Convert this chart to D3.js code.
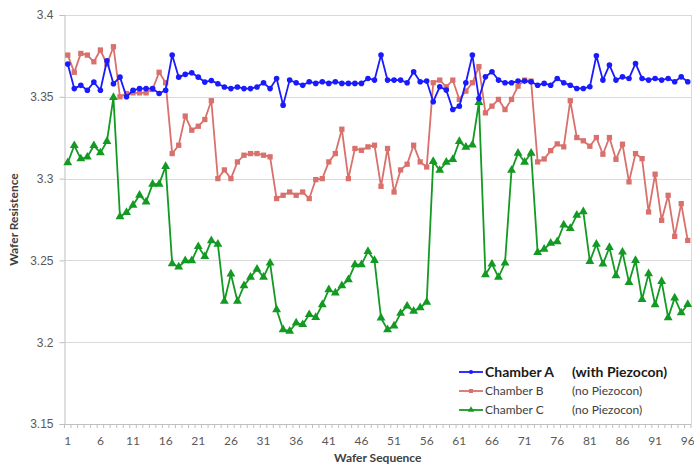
<!DOCTYPE html>
<html>
<head>
<meta charset="utf-8">
<script src="https://cdn.jsdelivr.net/npm/d3@7"></script>
<style>
  body { margin: 0; background: #fff; }
  svg { font-family: Lato, "Open Sans", sans-serif; }
  .grid line { stroke: #d9d9d9; stroke-width: 1; }
  .tick text { fill: #595959; }
</style>
</head>
<body>
<svg id="chart" width="694" height="465"></svg>
<script>
// wafer numbers along the bottom
var wafers = d3.range(1, 97);
var xTickLabels = [1, 6, 11, 16, 21, 26, 31, 36, 41, 46, 51, 56, 61, 66, 71, 76, 81, 86, 91, 96];
var yTicks = [3.15, 3.2, 3.25, 3.3, 3.35, 3.4];

var chamberA = [3.370, 3.355, 3.357, 3.354, 3.359, 3.354, 3.372, 3.358, 3.362, 3.350,
  3.354, 3.355, 3.355, 3.355, 3.352, 3.354, 3.3755, 3.362, 3.3637, 3.3647,
  3.362, 3.359, 3.360, 3.358, 3.356, 3.355, 3.356, 3.355, 3.355, 3.356,
  3.3586, 3.355, 3.3612, 3.3449, 3.3602, 3.3586, 3.357, 3.3592, 3.3582, 3.3592,
  3.3582, 3.3592, 3.3582, 3.3582, 3.3582, 3.3582, 3.3612, 3.3602, 3.3755, 3.3602,
  3.3602, 3.3602, 3.3586, 3.3653, 3.3592, 3.3596, 3.347, 3.3561, 3.3541, 3.3422,
  3.3443, 3.3586, 3.3755, 3.349, 3.3622, 3.3653, 3.3602, 3.3586, 3.3586, 3.3596,
  3.3596, 3.3592, 3.3571, 3.3582, 3.3571, 3.3612, 3.3586, 3.3571, 3.3551, 3.3551,
  3.3561, 3.3751, 3.3602, 3.3694, 3.3602, 3.3622, 3.3612, 3.3704, 3.3612, 3.3602,
  3.3612, 3.3602, 3.3612, 3.3592, 3.3622, 3.3592];

var chamberB = [3.3755, 3.365, 3.3765, 3.3755, 3.3714, 3.3786, 3.370, 3.3806, 3.350, 3.352,
  3.3524, 3.3524, 3.3524, 3.3545, 3.365, 3.3586, 3.3153, 3.3204, 3.3382, 3.3296,
  3.332, 3.3361, 3.3476, 3.300, 3.3053, 3.300, 3.3102, 3.3143, 3.3153, 3.3153,
  3.3143, 3.3133, 3.2878, 3.2898, 3.2918, 3.2898, 3.2918, 3.2878, 3.2994, 3.300,
  3.3102, 3.3153, 3.3302, 3.300, 3.3184, 3.3173, 3.3194, 3.3204, 3.2953, 3.3184,
  3.2918, 3.3053, 3.3088, 3.3204, 3.3102, 3.3071, 3.3586, 3.3602, 3.3561, 3.3602,
  3.3484, 3.3535, 3.3586, 3.3684, 3.3402, 3.3443, 3.3484, 3.3422, 3.3484, 3.3565,
  3.3602, 3.3596, 3.3102, 3.312, 3.3171, 3.3212, 3.3194, 3.3476, 3.3251, 3.3231,
  3.3198, 3.3251, 3.3149, 3.3251, 3.3118, 3.321, 3.298, 3.3153, 3.3122, 3.2796,
  3.3027, 3.2745, 3.2898, 3.2647, 3.2847, 3.2622];

var chamberC = [3.3097, 3.3202, 3.3121, 3.3132, 3.3202, 3.3158, 3.3227, 3.3496, 3.2767, 3.2793,
  3.2838, 3.2899, 3.2858, 3.2966, 3.2966, 3.3075, 3.248, 3.246, 3.2498, 3.2498,
  3.2585, 3.2524, 3.2621, 3.2599, 3.225, 3.2417, 3.225, 3.2346, 3.2398, 3.2447,
  3.2398, 3.2484, 3.2199, 3.2077, 3.2067, 3.2118, 3.2108, 3.2169, 3.2152, 3.223,
  3.2321, 3.2301, 3.2346, 3.2382, 3.2474, 3.2474, 3.2555, 3.25, 3.2148, 3.2077,
  3.210, 3.2177, 3.2221, 3.219, 3.2211, 3.2245, 3.3105, 3.3051, 3.3101, 3.3117,
  3.3227, 3.3192, 3.3206, 3.3466, 3.2413, 3.2478, 3.2397, 3.2484, 3.3051, 3.3156,
  3.3101, 3.3156, 3.2549, 3.2569, 3.2605, 3.2615, 3.2717, 3.2696, 3.2777, 3.2798,
  3.2494, 3.2599, 3.2478, 3.2579, 3.2407, 3.2551, 3.2366, 3.25, 3.2261, 3.2419,
  3.223, 3.2372, 3.215, 3.2271, 3.218, 3.2231];

var seriesNames = ["Chamber A", "Chamber B", "Chamber C"];
var seriesNotes = ["(with Piezocon)", "(no Piezocon)", "(no Piezocon)"];

var plotLeft = 64.5, plotRight = 691, plotTop = 15, plotBottom = 424;

var svg = d3.select("#chart");

var x = d3.scaleBand().domain(wafers).range([plotLeft, plotRight]).padding(0);
var y = d3.scaleLinear().domain([3.15, 3.4]).range([plotBottom, plotTop]);
var xc = function(d) { return x(d) + x.bandwidth() / 2; };

// horizontal gridlines
svg.append("g").attr("class", "grid")
  .selectAll("line").data(yTicks.slice(1)).enter().append("line")
  .attr("x1", plotLeft).attr("x2", plotRight)
  .attr("y1", function(d) { return Math.round(y(d)) + 0.5; })
  .attr("y2", function(d) { return Math.round(y(d)) + 0.5; });

// right border of plot
svg.append("line")
  .attr("x1", plotRight + 0.5).attr("x2", plotRight + 0.5)
  .attr("y1", plotTop).attr("y2", plotBottom)
  .attr("stroke", "#d9d9d9");

// y axis
var yAxis = d3.axisLeft(y).tickValues(yTicks).tickSize(5).tickPadding(6)
  .tickFormat(function(d) { return d3.format("")(+d.toFixed(2)); });
var yg = svg.append("g").attr("transform", "translate(" + plotLeft + ",0)").call(yAxis);
yg.select(".domain").attr("stroke", "#bfbfbf");
yg.selectAll(".tick line").attr("stroke", "#bfbfbf");
yg.selectAll(".tick text").style("font-size", "12px").style("font-family", null);

// x axis: a minor tick at every category boundary
var bounds = wafers.map(function(d) { return x(d); }).concat([plotRight]);
svg.append("line")
  .attr("x1", plotLeft).attr("x2", plotRight)
  .attr("y1", plotBottom + 0.5).attr("y2", plotBottom + 0.5)
  .attr("stroke", "#bfbfbf");
svg.append("g").selectAll("line").data(bounds).enter().append("line")
  .attr("x1", function(d) { return d; }).attr("x2", function(d) { return d; })
  .attr("y1", plotBottom).attr("y2", plotBottom + 4)
  .attr("stroke", "#bfbfbf");
svg.append("g").attr("class", "tick").selectAll("text").data(xTickLabels).enter().append("text")
  .attr("x", function(d) { return xc(d); })
  .attr("y", plotBottom + 21)
  .attr("text-anchor", "middle")
  .style("font-size", "12px")
  .text(function(d) { return d; });

// axis titles
svg.append("text")
  .attr("x", (plotLeft + plotRight) / 2).attr("y", 462)
  .attr("text-anchor", "middle")
  .style("font-size", "12px").style("font-weight", "bold").attr("fill", "#404040")
  .text("Wafer Sequence");
svg.append("text")
  .attr("transform", "translate(18," + ((plotTop + plotBottom) / 2) + ") rotate(-90)")
  .attr("text-anchor", "middle")
  .style("font-size", "12px").style("font-weight", "bold").attr("fill", "#404040")
  .text("Wafer Resistence");

var line = d3.line()
  .x(function(d, i) { return xc(wafers[i]); })
  .y(function(d) { return y(d); });

var tri = d3.symbol().type(d3.symbolTriangle).size(34);
var sq = d3.symbol().type(d3.symbolSquare).size(28);

function drawSeries(data, color, marker) {
  var g = svg.append("g");
  g.append("path").datum(data)
    .attr("fill", "none").attr("stroke", color).attr("stroke-width", 1.8)
    .attr("d", line);
  var pts = g.selectAll(".pt").data(data).enter();
  if (marker === "circle") {
    pts.append("circle")
      .attr("cx", function(d, i) { return xc(wafers[i]); })
      .attr("cy", function(d) { return y(d); })
      .attr("r", 2.8).attr("fill", color);
  } else {
    pts.append("path")
      .attr("d", marker === "square" ? sq : tri)
      .attr("transform", function(d, i) { return "translate(" + xc(wafers[i]) + "," + y(d) + ")"; })
      .attr("fill", color);
  }
}

var colors = ["#1a1aff", "#d9706b", "#139a22"];
drawSeries(chamberC, colors[2], "triangle");
drawSeries(chamberB, colors[1], "square");
drawSeries(chamberA, colors[0], "circle");

// legend
var legY = [372, 391, 410];
var leg = svg.append("g").selectAll("g").data(seriesNames).enter().append("g")
  .attr("transform", function(d, i) { return "translate(0," + legY[i] + ")"; });
leg.append("line").attr("x1", 459).attr("x2", 483).attr("y1", 0).attr("y2", 0)
  .attr("stroke", function(d, i) { return colors[i]; }).attr("stroke-width", 1.8);
leg.append("path")
  .attr("d", function(d, i) {
    if (i === 0) return d3.symbol().type(d3.symbolCircle).size(14)();
    if (i === 1) return d3.symbol().type(d3.symbolSquare).size(16)();
    return d3.symbol().type(d3.symbolTriangle).size(18)();
  })
  .attr("transform", "translate(471,0)")
  .attr("fill", function(d, i) { return colors[i]; });
leg.append("text").attr("x", 485).attr("y", 0).attr("dy", "0.35em")
  .style("font-size", function(d, i) { return i === 0 ? "14px" : "12px"; })
  .style("font-weight", function(d, i) { return i === 0 ? "bold" : "normal"; })
  .attr("fill", function(d, i) { return i === 0 ? "#1a1a1a" : "#404040"; })
  .text(function(d) { return d; });
leg.append("text").attr("x", 572).attr("y", 0).attr("dy", "0.35em")
  .style("font-size", function(d, i) { return i === 0 ? "14px" : "12px"; })
  .style("font-weight", function(d, i) { return i === 0 ? "bold" : "normal"; })
  .attr("fill", function(d, i) { return i === 0 ? "#1a1a1a" : "#404040"; })
  .text(function(d, i) { return seriesNotes[i]; });
</script>
</body>
</html>
